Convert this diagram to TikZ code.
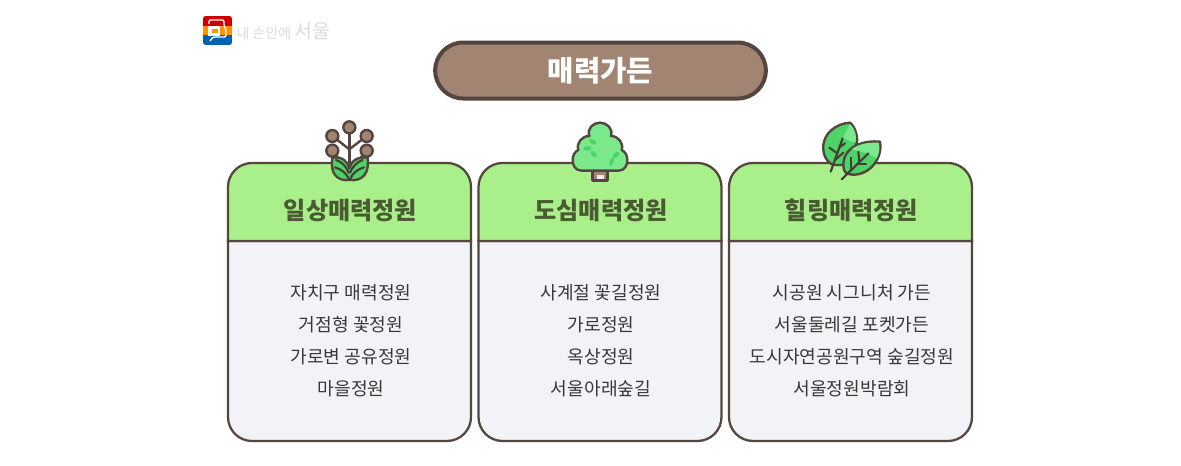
\documentclass[tikz,border=0pt]{standalone}
\usepackage{fontspec}
\setmainfont{Noto Sans CJK KR}
\newfontfamily\headfont{Noto Sans CJK KR Black}
\definecolor{rand}{HTML}{54463F}
\definecolor{braun}{HTML}{A28472}
\definecolor{kopf}{HTML}{A9F08B}
\definecolor{feld}{HTML}{F1F3F6}
\definecolor{kopftext}{HTML}{4A5A33}
\definecolor{blatt}{HTML}{4CD466}
\definecolor{hell}{HTML}{7CE88C}
\tikzset{
	cardbox/.style={draw=rand, line width=1.7pt},
	heading/.style={text=kopftext, font=\fontsize{18.1}{20}\headfont},
	entry/.style={text=black!78, font=\fontsize{13.6}{16}\selectfont},
	icon/.style={draw=rand, line width=1.8pt, line join=round, line cap=round},
	vein/.style={draw=rand!85!black, line width=1.6pt, line cap=round},
}
\begin{document}
\begin{tikzpicture}[x=0.75pt, y=-0.75pt]
	
	\useasboundingbox (0,0) rectangle (1181,465);
	
	% ----- Logo -----
	\begin{scope}
		\clip[rounded corners=2pt] (203,16) rectangle (232,45);
		\fill[red!80!black] (203,16) rectangle (232,26);
		\fill[orange!85!yellow] (203,26) rectangle (232,35);
		\fill[blue!45!cyan!70!black] (203,35) rectangle (232,45);
		\draw[white, line width=1pt, rounded corners=1pt] (209,24) -- (209,20) -- (224,20) -- (224,25) -- (226,30) -- (226,37) -- (213,37) -- (210,41);
		\fill[white] (208,26) rectangle (220,36);
		\fill[orange!85!yellow] (212,29) rectangle (218,33);
	\end{scope}
	\node[text=black!14, anchor=west, font=\fontsize{10.5}{12}\selectfont] (logotext) at (232,31) {내 손안에 {\fontsize{14.5}{12}\selectfont 서울}};
	
	% ----- Titel -----
	\node[draw=rand, fill=braun, line width=3pt, rounded corners=21pt, minimum width=248pt, minimum height=42pt, text=white, font=\fontsize{21.5}{24}\selectfont\bfseries] (title) at (600.5,70.5) {매력가든};
	
	% ----- Karte 1 -----
	\draw[cardbox, fill=feld] (228,241) [rounded corners=18pt] -- (228,441) -- (471,441) [sharp corners] -- (471,241) -- cycle;
	\draw[cardbox, fill=kopf] (228,241) [rounded corners=18pt] -- (228,163) -- (471,163) [sharp corners] -- (471,241) -- cycle;
	\node[heading] (head1) at (350.5,210) {일상매력정원};
	\node[entry] (entry11) at (351,293) {자치구 매력정원};
	\node[entry] (entry12) at (351,325) {거점형 꽃정원};
	\node[entry] (entry13) at (351,357) {가로변 공유정원};
	\node[entry] (entry14) at (351,389) {마을정원};
	
	% Pflanze
	\begin{scope}[shift={(300,110)}, scale=1/3]
		\draw[icon] (148,52) -- (148,205);
		\draw[icon] (97,78) -- (148,118) -- (200,78);
		\draw[icon] (97,122) -- (120,150);
		\draw[icon] (200,122) -- (176,150);
		\foreach \px/\py in {148/52, 97/78, 200/78, 97/122, 200/122}
			\draw[icon, fill=braun] (\px,\py) circle[radius=18];
		\draw[icon, fill=blatt] (148,210) .. controls (110,214) and (90,190) .. (97,143) .. controls (125,138) and (145,155) .. (148,175) .. controls (152,155) and (172,138) .. (203,143) .. controls (208,190) and (190,214) .. (148,210) -- cycle;
		\draw[vein] (108,150) .. controls (125,155) and (140,170) .. (146,188);
		\draw[vein] (188,150) .. controls (172,155) and (157,170) .. (150,188);
		\draw[vein] (105,172) .. controls (125,178) and (140,190) .. (147,208);
		\draw[vein] (192,172) .. controls (172,178) and (157,190) .. (150,208);
	\end{scope}
	
	% ----- Karte 2 -----
	\begin{scope}[shift={(250.5,0)}]
		\draw[cardbox, fill=feld] (228,241) [rounded corners=18pt] -- (228,441) -- (471,441) [sharp corners] -- (471,241) -- cycle;
		\draw[cardbox, fill=kopf] (228,241) [rounded corners=18pt] -- (228,163) -- (471,163) [sharp corners] -- (471,241) -- cycle;
		\node[heading] (head2) at (350.5,210) {도심매력정원};
		\node[entry] (entry21) at (350.5,293) {사계절 꽃길정원};
		\node[entry] (entry22) at (350.5,325) {가로정원};
		\node[entry] (entry23) at (350.5,357) {옥상정원};
		\node[entry] (entry24) at (350.5,389) {서울아래숲길};
	\end{scope}
	
	% Baum
	\begin{scope}[shift={(550,110)}, scale=1/3]
		\draw[icon, fill=braun] (128,175) rectangle (172,212);
		\fill[white!85!braun] (140,196) rectangle (163,207);
		\draw[icon, fill=hell] (95,182) .. controls (75,182) and (68,165) .. (68,150) .. controls (68,135) and (75,125) .. (85,120) .. controls (78,100) and (95,78) .. (118,78) .. controls (110,55) and (130,38) .. (150,38) .. controls (170,38) and (190,55) .. (183,78) .. controls (205,78) and (222,100) .. (215,120) .. controls (225,125) and (232,135) .. (232,150) .. controls (232,165) and (225,182) .. (205,182) -- cycle;
		\fill[blatt, rotate around={-35:(128,95)}] (128,95) ellipse[x radius=12, y radius=7];
		\fill[blatt, rotate around={5:(112,115)}] (112,115) ellipse[x radius=12, y radius=7];
		\fill[blatt, rotate around={-50:(131,132)}] (131,132) ellipse[x radius=12, y radius=7];
		\fill[blatt, rotate around={40:(198,135)}] (198,135) ellipse[x radius=12, y radius=7];
		\fill[blatt, rotate around={70:(185,155)}] (185,155) ellipse[x radius=13, y radius=6];
	\end{scope}
	
	% ----- Karte 3 -----
	\begin{scope}[shift={(501,0)}]
		\draw[cardbox, fill=feld] (228,241) [rounded corners=18pt] -- (228,441) -- (471,441) [sharp corners] -- (471,241) -- cycle;
		\draw[cardbox, fill=kopf] (228,241) [rounded corners=18pt] -- (228,163) -- (471,163) [sharp corners] -- (471,241) -- cycle;
		\node[heading] (head3) at (350.5,210) {힐링매력정원};
		\node[entry] (entry31) at (351,293) {시공원 시그니처 가든};
		\node[entry] (entry32) at (351,325) {서울둘레길 포켓가든};
		\node[entry] (entry33) at (351,357) {도시자연공원구역 숲길정원};
		\node[entry] (entry34) at (351,389) {서울정원박람회};
	\end{scope}
	
	% Blaetter
	\begin{scope}[shift={(800,110)}, scale=1/3]
		\draw[icon, fill=blatt] (150,38) .. controls (110,40) and (65,70) .. (70,120) .. controls (72,145) and (90,165) .. (105,165) -- (135,165) -- (170,100) .. controls (175,80) and (165,50) .. (150,38) -- cycle;
		\fill[hell] (150,42) .. controls (165,55) and (172,80) .. (166,98) -- (128,85) -- cycle;
		\draw[vein] (92,185) -- (128,85);
		\draw[vein] (112,130) -- (88,113);
		\draw[vein] (118,112) -- (135,100);
		\draw[vein] (105,150) -- (130,128);
		\draw[icon, fill=blatt] (240,95) .. controls (190,90) and (130,110) .. (130,165) .. controls (130,180) and (135,190) .. (145,192) .. controls (200,205) and (250,150) .. (240,95) -- cycle;
		\fill[hell] (236,99) .. controls (205,96) and (175,102) .. (155,118) -- (205,130) -- (230,145) .. controls (238,130) and (240,115) .. (236,99) -- cycle;
		\draw[vein] (125,208) -- (205,130);
		\draw[vein] (152,181) -- (152,143);
		\draw[vein] (172,162) -- (198,162);
		\draw[vein] (178,156) -- (175,125);
	\end{scope}
	
\end{tikzpicture}
\end{document}
